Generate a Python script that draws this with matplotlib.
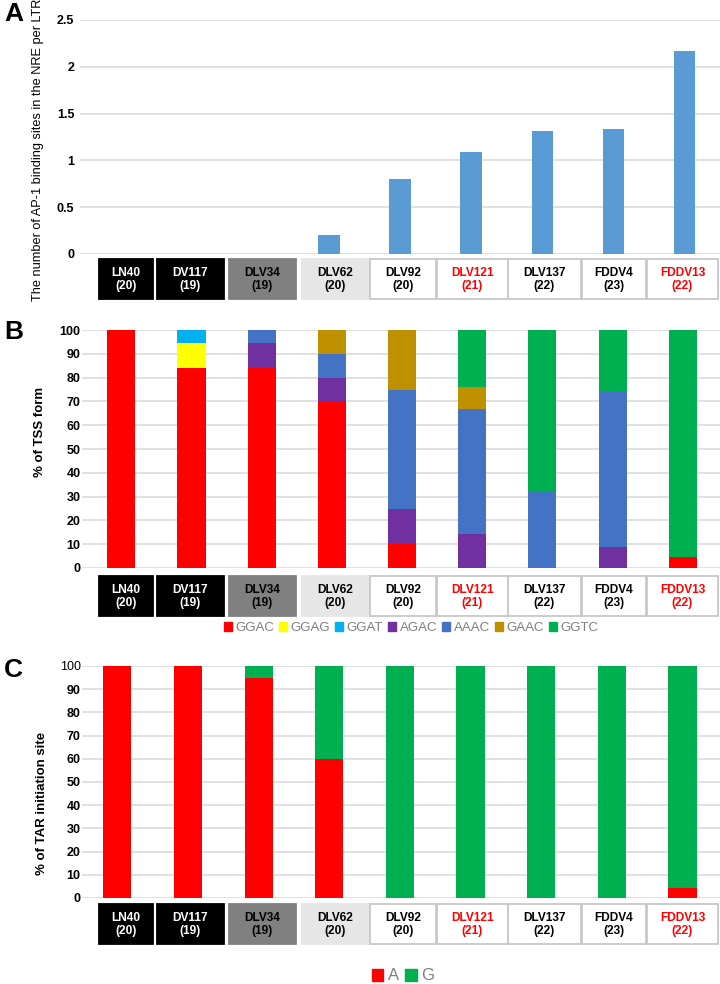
import numpy as np
import matplotlib
matplotlib.use('Agg')
import matplotlib.pyplot as plt
from matplotlib.patches import Rectangle, Patch

plt.rcParams['font.family'] = ['Liberation Sans', 'DejaVu Sans']

# data
strains = ['LN40', 'DV117', 'DLV34', 'DLV62', 'DLV92', 'DLV121', 'DLV137', 'FDDV4', 'FDDV13']
counts = [20, 19, 19, 20, 20, 21, 22, 23, 22]

ap1_sites = [0, 0, 0, 0.2, 0.8, 1.09, 1.31, 1.34, 2.17]

tss_forms = ['GGAC', 'GGAG', 'GGAT', 'AGAC', 'AAAC', 'GAAC', 'GGTC']
tss_ggac = [100, 84.2, 84.2, 70, 10, 0, 0, 0, 4.5]
tss_ggag = [0, 10.5, 0, 0, 0, 0, 0, 0, 0]
tss_ggat = [0, 5.3, 0, 0, 0, 0, 0, 0, 0]
tss_agac = [0, 0, 10.5, 10, 15, 14.3, 0, 8.7, 0]
tss_aaac = [0, 0, 5.3, 10, 50, 52.4, 31.8, 65.2, 0]
tss_gaac = [0, 0, 0, 10, 25, 9.5, 0, 0, 0]
tss_ggtc = [0, 0, 0, 0, 0, 23.8, 68.2, 26.1, 95.5]

tar_forms = ['A', 'G']
tar_a = [100, 100, 94.7, 60, 0, 0, 0, 0, 4.5]
tar_g = [0, 0, 5.3, 40, 100, 100, 100, 100, 95.5]

tss_colors = ['#ff0000', '#ffff00', '#00b0f0', '#7030a0', '#4472c4', '#bf9000', '#00b050']
tar_colors = ['#ff0000', '#00b050']

W, H = 720, 984
fig = plt.figure(figsize=(W / 100, H / 100), dpi=100)


def px_axes(left, top, right, bottom):
    return fig.add_axes([left / W, 1 - bottom / H, (right - left) / W, (bottom - top) / H])


def style_axes(ax, xlim, pad, size, ymax, yticks):
    ax.set_xlim(*xlim)
    ax.set_ylim(0, ymax)
    ax.set_yticks(yticks)
    ax.set_xticks([])
    for s in ax.spines.values():
        s.set_visible(False)
    ax.yaxis.grid(True, color='#d9d9d9', lw=1.1)
    ax.set_axisbelow(True)
    ax.tick_params(axis='y', length=0, pad=pad, labelsize=size)
    for t in ax.get_yticklabels():
        t.set_fontweight('bold')


x = np.arange(len(strains))

# panel A
axA = px_axes(80, 20, 720, 254)
axA.bar(x, ap1_sites, width=0.3, color='#5b9bd5')
style_axes(axA, (-0.5, 8.5), 4, 9, 2.5, [0, 0.5, 1, 1.5, 2, 2.5])
axA.set_yticklabels(['0', '0.5', '1', '1.5', '2', '2.5'])
for t in axA.get_yticklabels():
    t.set_fontweight('bold')

# panel B
axB = px_axes(82, 330, 720, 568)
bottom = np.zeros(len(strains))
for name, vals, col in zip(tss_forms,
                           [tss_ggac, tss_ggag, tss_ggat, tss_agac, tss_aaac, tss_gaac, tss_ggtc],
                           tss_colors):
    axB.bar(x, vals, bottom=bottom, width=0.4, color=col, label=name)
    bottom += np.array(vals)
style_axes(axB, (-0.56, 8.53), 1, 9, 100, np.arange(0, 101, 10))

# panel C
axC = px_axes(82, 666, 720, 898)
axC.bar(x, tar_a, width=0.4, color=tar_colors[0], label='A')
axC.bar(x, tar_g, bottom=tar_a, width=0.4, color=tar_colors[1], label='G')
style_axes(axC, (-0.5, 8.53), 1, 9, 100, np.arange(0, 101, 10))
axC.get_yticklabels()[-1].set_fontweight('normal')

# overlay for label boxes, letters, titles
ov = fig.add_axes([0, 0, 1, 1], zorder=-1)
ov.set_xlim(0, W)
ov.set_ylim(H, 0)
ov.axis('off')

box_x = [(99, 153), (157, 224), (229, 296), (302, 369), (370, 436),
         (437, 508), (508, 581), (582, 646), (647, 718)]
box_face = ['black', 'black', '#808080', '#e6e6e6', 'white', 'white', 'white', 'white', 'white']
text_col = ['white', 'white', 'black', 'black', 'black', '#ff0000', 'black', 'black', '#ff0000']

for y0 in [259, 576, 904]:
    for (l, r), fc, tc, s, n in zip(box_x, box_face, text_col, strains, counts):
        ec = '#c8c8c8' if fc == 'white' else fc
        ov.add_patch(Rectangle((l, y0), r - l, 40, facecolor=fc, edgecolor=ec, lw=1.3))
        ov.text((l + r) / 2, y0 + 20.5, f'{s}\n({n})', ha='center', va='center',
                color=tc, fontsize=8.6, fontweight='bold', linespacing=1.2)

ov.text(4, 14, 'A', fontsize=19, fontweight='bold', va='center')
ov.text(4, 332, 'B', fontsize=19, fontweight='bold', va='center')
ov.text(4, 670, 'C', fontsize=19, fontweight='bold', va='center')

ov.text(38, 150, 'The number of AP-1 binding sites in the NRE per LTR', rotation=90,
        ha='center', va='center', fontsize=9.2)
ov.text(40, 432, '% of TSS form', rotation=90, ha='center', va='center',
        fontsize=9.5, fontweight='bold')
ov.text(42, 803, '% of TAR initiation site', rotation=90, ha='center', va='center',
        fontsize=9.5, fontweight='bold')

# legends
hB = [Patch(color=c, label=n) for n, c in zip(tss_forms, tss_colors)]
fig.legend(handles=hB, loc='center', bbox_to_anchor=(411 / W, 1 - 628 / H), ncol=7,
           frameon=False, handlelength=0.6, handleheight=0.6, handletextpad=0.25,
           columnspacing=0.4, prop={'size': 9.5}, labelcolor='#7f7f7f')
hC = [Patch(color=c, label=n) for n, c in zip(tar_forms, tar_colors)]
fig.legend(handles=hC, loc='center', bbox_to_anchor=(403 / W, 1 - 976 / H), ncol=2,
           frameon=False, handlelength=0.7, handleheight=0.7, handletextpad=0.25,
           columnspacing=0.4, prop={'size': 12}, labelcolor='#7f7f7f')

fig.savefig('out.png', dpi=100)
